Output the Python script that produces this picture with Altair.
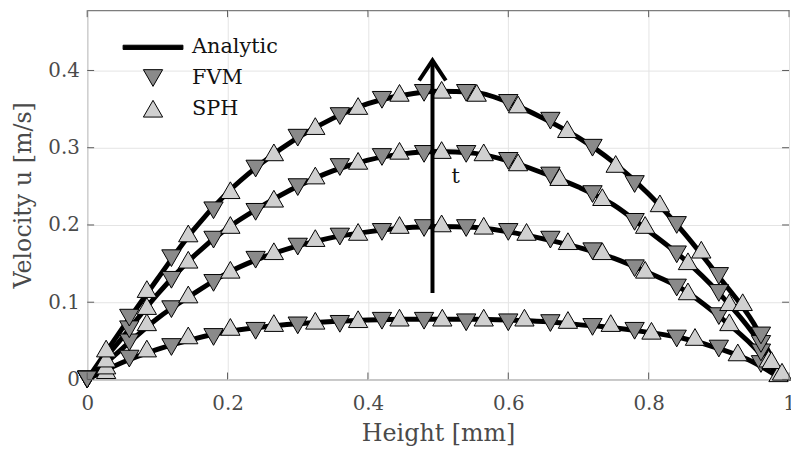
import altair as alt
import pandas as pd

# ---------------- data ----------------
# analytic profiles (four time instants, increasing t)
line_x = [0, 0.05, 0.1, 0.15, 0.2, 0.25, 0.3, 0.35, 0.4, 0.45, 0.5,
          0.55, 0.6, 0.65, 0.7, 0.75, 0.8, 0.85, 0.9, 0.95, 0.99]
analytic_t1 = [0, 0.022, 0.039, 0.052, 0.062, 0.068, 0.072, 0.075, 0.077, 0.078, 0.078,
               0.078, 0.077, 0.075, 0.071, 0.067, 0.061, 0.053, 0.040, 0.022, 0]
analytic_t2 = [0, 0.040, 0.079, 0.110, 0.138, 0.158, 0.173, 0.184, 0.191, 0.196, 0.198,
               0.197, 0.191, 0.182, 0.171, 0.157, 0.138, 0.116, 0.082, 0.042, 0]
analytic_t3 = [0, 0.054, 0.110, 0.158, 0.196, 0.225, 0.250, 0.270, 0.284, 0.292, 0.295,
               0.293, 0.283, 0.267, 0.249, 0.226, 0.192, 0.156, 0.112, 0.058, 0]
analytic_t4 = [0, 0.066, 0.130, 0.192, 0.242, 0.281, 0.313, 0.338, 0.357, 0.368, 0.373,
               0.372, 0.359, 0.338, 0.313, 0.281, 0.240, 0.190, 0.133, 0.072, 0]

# FVM (cell centres)
fvm_x = [0, 0.06, 0.12, 0.18, 0.24, 0.30, 0.36, 0.42, 0.48, 0.54, 0.60,
         0.66, 0.72, 0.78, 0.84, 0.90, 0.96]
fvm_t1 = [0, 0.027, 0.042, 0.055, 0.063, 0.070, 0.072, 0.076, 0.076, 0.074, 0.074,
          0.073, 0.068, 0.063, 0.053, 0.040, 0.020]
fvm_t2 = [0, 0.048, 0.091, 0.125, 0.155, 0.172, 0.185, 0.191, 0.196, 0.196, 0.191,
          0.181, 0.166, 0.144, 0.119, 0.082, 0.035]
fvm_t3 = [0, 0.065, 0.129, 0.181, 0.217, 0.249, 0.275, 0.288, 0.292, 0.292, 0.283,
          0.264, 0.240, 0.204, 0.162, 0.112, 0.046]
fvm_t4 = [0, 0.080, 0.157, 0.219, 0.273, 0.313, 0.341, 0.362, 0.371, 0.371, 0.358,
          0.335, 0.300, 0.253, 0.200, 0.134, 0.057]

# SPH (particle heights and velocities)
sph_x_t1 = [0.027, 0.085, 0.144, 0.204, 0.266, 0.325, 0.386, 0.445, 0.506, 0.565,
            0.623, 0.685, 0.746, 0.804, 0.866, 0.927, 0.985]
sph_t1 = [0.012, 0.040, 0.057, 0.068, 0.073, 0.076, 0.078, 0.080, 0.080, 0.080,
          0.080, 0.077, 0.073, 0.063, 0.055, 0.035, 0.008]
sph_x_t2 = [0.027, 0.085, 0.144, 0.204, 0.266, 0.325, 0.386, 0.445, 0.505, 0.565,
            0.626, 0.685, 0.734, 0.795, 0.856, 0.915, 0.971]
sph_t2 = [0.018, 0.074, 0.110, 0.142, 0.166, 0.183, 0.191, 0.200, 0.202, 0.199,
          0.191, 0.179, 0.166, 0.142, 0.114, 0.074, 0.027]
sph_x_t3 = [0.027, 0.085, 0.144, 0.204, 0.266, 0.325, 0.386, 0.445, 0.505, 0.565,
            0.614, 0.673, 0.734, 0.795, 0.856, 0.915, 0.975]
sph_t3 = [0.027, 0.095, 0.155, 0.200, 0.234, 0.264, 0.283, 0.296, 0.297, 0.294,
          0.281, 0.262, 0.236, 0.200, 0.153, 0.100, 0.025]
sph_x_t4 = [0.027, 0.085, 0.144, 0.204, 0.266, 0.325, 0.386, 0.445, 0.505, 0.555,
            0.614, 0.684, 0.753, 0.816, 0.875, 0.934, 0.990]
sph_t4 = [0.040, 0.117, 0.189, 0.245, 0.294, 0.328, 0.354, 0.371, 0.375, 0.371,
          0.356, 0.324, 0.279, 0.228, 0.168, 0.100, 0.010]

# time arrow annotation
arrow_x = [0.492]
arrow_u0 = [0.112]
arrow_u1 = [0.413]
t_label = ["t"]
t_label_x = [0.525]
t_label_u = [0.262]

x_ticks = [0, 0.2, 0.4, 0.6, 0.8, 1]
y_ticks = [0, 0.1, 0.2, 0.3, 0.4]
methods = ["Analytic", "FVM", "SPH"]

# ---------------- tables ----------------
curves = ["t1", "t2", "t3", "t4"]
analytic = [analytic_t1, analytic_t2, analytic_t3, analytic_t4]
fvm = [fvm_t1, fvm_t2, fvm_t3, fvm_t4]
sph_x = [sph_x_t1, sph_x_t2, sph_x_t3, sph_x_t4]
sph = [sph_t1, sph_t2, sph_t3, sph_t4]

line_rows = []
for c, ys in zip(curves, analytic):
    for i, (x, u) in enumerate(zip(line_x, ys)):
        line_rows.append({"curve": c, "x": x, "u": u, "i": i})
line_df = pd.DataFrame(line_rows)

pt_rows = []
for c, ys in zip(curves, fvm):
    for x, u in zip(fvm_x, ys):
        pt_rows.append({"curve": c, "x": x, "u": u, "method": "FVM"})
for c, xs, ys in zip(curves, sph_x, sph):
    for x, u in zip(xs, ys):
        pt_rows.append({"curve": c, "x": x, "u": u, "method": "SPH"})
pt_df = pd.DataFrame(pt_rows)

arrow_df = pd.DataFrame({"x": arrow_x, "u0": arrow_u0, "u": arrow_u1})
tlab_df = pd.DataFrame({"x": t_label_x, "u": t_label_u, "txt": t_label})
xt_df = pd.DataFrame({"x": x_ticks})
yt_df = pd.DataFrame({"u": y_ticks})

# ---------------- styling ----------------
FONT = "DejaVu Serif"
W, H = 709, 373
GRAY = "#4a4a4a"
AXC = "#5a5a5a"

xscale = alt.Scale(domain=[0, 1], nice=False, zero=False)
yscale = alt.Scale(domain=[0, 0.478], nice=False, zero=False)
xaxis = alt.Axis(values=x_ticks, format="~g", title="Height [mm]", grid=True,
                 gridColor="#e4e4e4", domain=False, ticks=False, labelPadding=14,
                 titlePadding=9, labelFlush=False)
yaxis = alt.Axis(values=y_ticks, format="~g", title="Velocity u [m/s]", grid=True,
                 gridColor="#e4e4e4", domain=False, ticks=False, labelPadding=8,
                 titlePadding=12)


def X(field="x"):
    return alt.X(f"{field}:Q", scale=xscale, axis=xaxis)


def Y(field="u"):
    return alt.Y(f"{field}:Q", scale=yscale, axis=yaxis)


bar_path = "M-3.1,-0.22L3.1,-0.22L3.1,0.22L-3.1,0.22Z"
legend = alt.Legend(title=None, orient="none", legendX=56, legendY=27,
                    labelFont=FONT, labelFontSize=21, labelColor="#111111",
                    symbolSize=380, symbolStrokeColor="black", symbolStrokeWidth=1,
                    rowPadding=9, labelOffset=29, padding=0)

lines = alt.Chart(line_df).mark_line(color="black", strokeWidth=5,
                                     interpolate="monotone").encode(
    x=X(), y=Y(), detail="curve:N", order="i:Q")

points = alt.Chart(pt_df).mark_point(filled=True, size=380, strokeWidth=1,
                                     opacity=1).encode(
    x=X(), y=Y(),
    shape=alt.Shape("method:N", scale=alt.Scale(domain=methods,
                    range=[bar_path, "triangle-down", "triangle-up"]), legend=legend),
    fill=alt.Fill("method:N", scale=alt.Scale(domain=methods,
                  range=["black", "#8a8a8a", "#d0d0d0"]), legend=legend),
    stroke=alt.Stroke("method:N", scale=alt.Scale(domain=methods,
                      range=["black", "black", "black"]), legend=legend),
)

shaft = alt.Chart(arrow_df).mark_rule(color="black", strokeWidth=4).encode(
    x=X(), y=Y("u0"), y2="u:Q")
head = alt.Chart(arrow_df).mark_point(shape="M-1,1.5L0,0L1,1.5", size=729,
                                      filled=False, stroke="black", strokeWidth=4,
                                      strokeJoin="miter", opacity=1).encode(
    x=X(), y=Y())
tlab = alt.Chart(tlab_df).mark_text(font=FONT, fontSize=21, color="#111111",
                                    baseline="middle", align="center").encode(
    x=X(), y=Y(), text="txt:N")

tk = dict(color=AXC, strokeWidth=1)
xt_bottom = alt.Chart(xt_df).mark_rule(**tk).encode(
    x=X(), y=alt.value(H), y2=alt.value(H - 7))
xt_top = alt.Chart(xt_df).mark_rule(**tk).encode(
    x=X(), y=alt.value(0), y2=alt.value(7))
yt_left = alt.Chart(yt_df).mark_rule(**tk).encode(
    y=Y(), x=alt.value(0), x2=alt.value(7))
yt_right = alt.Chart(yt_df).mark_rule(**tk).encode(
    y=Y(), x=alt.value(W), x2=alt.value(W - 7))

chart = alt.layer(
    lines, points, shaft, head, tlab, xt_bottom, xt_top, yt_left, yt_right
).properties(
    width=W, height=H,
    autosize=alt.AutoSizeParams(type="none"),
    padding={"left": 80, "top": 0, "right": 2, "bottom": 66},
).configure_view(
    stroke=AXC, strokeWidth=1
).configure_axis(
    labelFont=FONT, labelFontSize=20, labelColor=GRAY,
    titleFont=FONT, titleFontSize=24, titleColor=GRAY, titleFontWeight="normal",
)

chart.save("out.html", embed_options={"renderer": "svg", "actions": False})
